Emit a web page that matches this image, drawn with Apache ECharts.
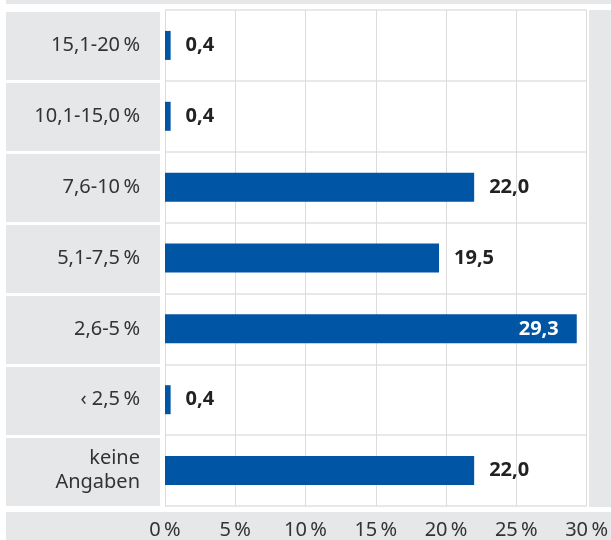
<!DOCTYPE html>
<html>
<head>
<meta charset="utf-8">
<script src="https://cdn.jsdelivr.net/npm/echarts@6/dist/echarts.min.js"></script>
<style>
  html, body { margin: 0; padding: 0; background: #fff; }
  #chart { width: 611px; height: 540px; }
</style>
</head>
<body>
<div id="chart"></div>
<script>
// Kategorien von oben nach unten
var categories = ['15,1-20\u2009%', '10,1-15,0\u2009%', '7,6-10\u2009%', '5,1-7,5\u2009%', '2,6-5\u2009%', '\u2039 2,5\u2009%', 'keine\nAngaben'];
var values = [0.4, 0.4, 22.0, 19.5, 29.3, 0.4, 22.0];
var xTicks = { min: 0, max: 30, interval: 5 };

var blue = '#0055a4';
var panel = '#e6e7e9';
var font = 'Noto Sans';

function fmt(v) { return v.toFixed(1).replace('.', ','); }

var barData = values.map(function (v) {
  // der längste Balken trägt seine Zahl innen
  if (v > 25) {
    return { value: v, label: { position: 'insideRight', color: '#fff', distance: 18 } };
  }
  return v;
});

var chart = echarts.init(document.getElementById('chart'));
var option = {
  animation: false,
  textStyle: { fontFamily: font },
  grid: [
    { left: 165, right: 22, top: 10, bottom: 33 },
    { left: 6, width: 154, top: 10, bottom: 33 }
  ],
  xAxis: [
    {
      type: 'value', gridIndex: 0,
      min: xTicks.min, max: xTicks.max, interval: xTicks.interval,
      axisLine: { show: false }, axisTick: { show: false },
      axisLabel: {
        fontSize: 20, color: '#333', margin: 14, fontFamily: font,
        formatter: function (v) { return v + '\u2009%'; }
      },
      splitLine: { lineStyle: { color: '#dcdcdc', width: 1 } }
    },
    {
      type: 'value', gridIndex: 1, min: 0, max: 1, show: false
    }
  ],
  yAxis: [
    {
      type: 'category', gridIndex: 0, data: categories, inverse: true,
      axisLine: { show: false }, axisTick: { show: false },
      axisLabel: { fontSize: 20, color: '#333', margin: 25, lineHeight: 24, fontFamily: font },
      splitLine: { show: true, lineStyle: { color: '#e0e0e0', width: 1.5 } }
    },
    {
      type: 'category', gridIndex: 1, data: categories, inverse: true,
      axisLine: { show: false }, axisTick: { show: false }, axisLabel: { show: false },
      splitArea: { show: true, areaStyle: { color: [panel] } },
      splitLine: { show: true, lineStyle: { color: '#fff', width: 3 } }
    }
  ],
  graphic: [
    { type: 'rect', shape: { x: 6, y: 0, width: 605, height: 4 }, style: { fill: panel }, silent: true },
    { type: 'rect', shape: { x: 6, y: 512, width: 605, height: 28 }, style: { fill: panel }, silent: true, z: -1 },
    { type: 'rect', shape: { x: 589, y: 10, width: 22, height: 497 }, style: { fill: panel }, silent: true }
  ],
  series: [
    {
      type: 'bar', xAxisIndex: 0, yAxisIndex: 0,
      data: barData, barWidth: 29,
      itemStyle: { color: blue },
      label: {
        show: true, position: 'right', distance: 15,
        fontSize: 20, fontWeight: 'bold', color: '#222', fontFamily: font,
        formatter: function (p) { return fmt(p.value); }
      }
    }
  ]
};
chart.setOption(option);
</script>
</body>
</html>
